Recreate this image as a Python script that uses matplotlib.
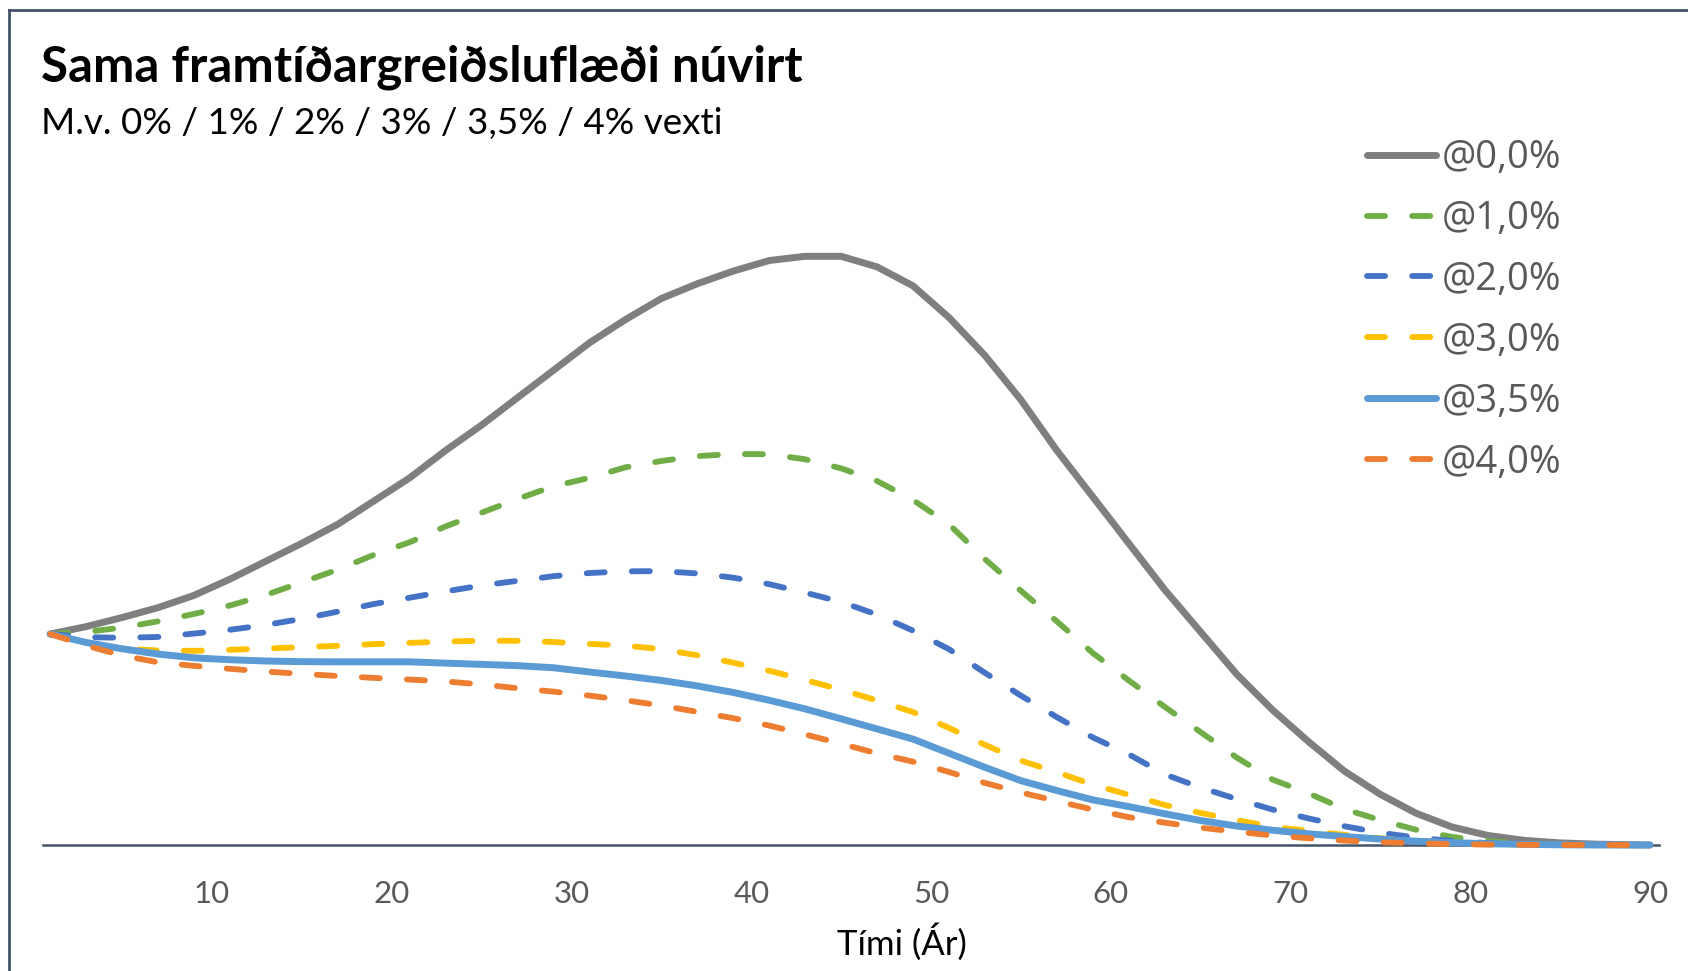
import matplotlib
matplotlib.use("Agg")
import matplotlib.pyplot as plt
from matplotlib.lines import Line2D

# Present value of the same future cash flow, by discount rate
years = [1, 3, 5, 7, 9, 11, 13, 15, 17, 19, 21, 23, 25, 27, 29, 31, 33, 35, 37, 39,
         41, 43, 45, 47, 49, 51, 53, 55, 57, 59, 61, 63, 65, 67, 69, 71, 73, 75, 77, 79,
         81, 83, 85, 87, 89, 90]

pv_0 = [100, 103.5, 107.8, 112.5, 118.3, 126, 134.5, 143, 152, 163, 174, 187, 199, 212,
        225, 238, 249, 259, 266, 272, 277, 279, 279, 274, 265, 250, 232, 211, 187, 165,
        143, 121, 101, 81, 64, 49, 35, 24, 15, 8.5, 4.5, 2.2, 1.0, 0.4, 0.1, 0]
pv_1 = [100, 101, 103, 106, 109.5, 113.5, 118.5, 124.5, 130.5, 137.5, 143.5, 151, 157.5,
        164, 170, 174, 179, 182, 184.3, 185.3, 185.2, 182.8, 178.5, 172.5, 163.5, 152,
        135.5, 120.5, 106, 91, 78, 65.5, 53.5, 41.5, 31, 24.5, 17, 11.8, 7.2, 3.8, 1.8,
        0.8, 0.3, 0.1, 0, 0]
pv_2 = [100, 98.5, 98.2, 98.6, 100.2, 102, 104.3, 107.2, 110.6, 114.2, 117.2, 120.2, 123,
        125.2, 127.4, 128.9, 129.7, 129.8, 128.7, 126.7, 123.6, 119.6, 115.2, 109.2,
        101.6, 92.8, 81.6, 70.8, 60.6, 51, 43, 33.5, 27.2, 21.8, 16.8, 12.6, 8.9, 5.8,
        3.5, 1.9, 0.9, 0.4, 0.15, 0.05, 0, 0]
pv_3 = [100, 95, 93, 92.2, 92, 92.5, 93.1, 93.8, 94.4, 95.2, 95.8, 96.4, 96.8, 96.8, 96.2,
        95.3, 94.5, 92.8, 89.9, 86.4, 82.6, 78.2, 73.6, 68.5, 63, 55.5, 47.5, 40, 34.5,
        28.6, 23.8, 19, 15.2, 11.8, 8.6, 6.7, 4.8, 3.2, 2, 1.1, 0.5, 0.2, 0.1, 0, 0, 0]
pv_35 = [100, 96, 93, 90.5, 88.7, 87.8, 87.2, 86.9, 86.8, 86.8, 86.8, 86.2, 85.6, 85, 84,
         82, 80.1, 78, 75.4, 72.3, 68.6, 64.5, 59.8, 55, 50.2, 43.5, 36.8, 30.5, 25.8,
         21.4, 18.2, 14.8, 11.6, 9, 7, 5.3, 4, 2.8, 1.8, 1.1, 0.6, 0.3, 0.1, 0, 0, 0]
pv_4 = [100, 94.5, 89.8, 86.6, 84.9, 83.5, 82.2, 81.1, 80.1, 79.2, 78.4, 77.5, 76.1, 74.3,
        72.7, 70.8, 68.6, 66.1, 63.1, 60.1, 56.6, 52.4, 48, 43.4, 39.5, 34.6, 29.4, 24.9,
        20.8, 16.8, 13.2, 10.6, 8.2, 6.3, 4.5, 3.2, 2.1, 1.3, 0.8, 0.4, 0.2, 0.1, 0, 0,
        0, 0]

labels = ["@0,0%", "@1,0%", "@2,0%", "@3,0%", "@3,5%", "@4,0%"]
series = [pv_0, pv_1, pv_2, pv_3, pv_35, pv_4]
colors = ["#7f7f7f", "#70ad47", "#4472c4", "#ffc000", "#5b9bd5", "#ed7d31"]
dashed = [False, True, True, True, False, True]
x_ticks = [10, 20, 30, 40, 50, 60, 70, 80, 90]

plt.rcParams["lines.scale_dashes"] = False
W, H = 1688, 971
fig = plt.figure(figsize=(W / 100, H / 100), dpi=100)
fig.patch.set_facecolor("white")

# plot area in pixel terms
ax_left, ax_right, ax_top, ax_bottom = 43, 1659, 130, 845
ax = fig.add_axes([ax_left / W, (H - ax_bottom) / H,
                   (ax_right - ax_left) / W, (ax_bottom - ax_top) / H])

handles = []
for vals, lab, col, dsh in zip(series, labels, colors, dashed):
    if dsh:
        ln, = ax.plot(years, vals, color=col, lw=4.2, label=lab,
                      solid_capstyle="round", dash_capstyle="round",
                      clip_on=False, zorder=3)
        ln.set_dashes((13, 19.5))
    else:
        ln, = ax.plot(years, vals, color=col, lw=5.0, label=lab,
                      solid_capstyle="round", solid_joinstyle="round",
                      clip_on=False, zorder=3)
    handles.append(ln)

ax.set_xlim(0.6, 90.5)
ax.set_ylim(0, (ax_bottom - ax_top) / 2.11)

for side in ["left", "right", "top"]:
    ax.spines[side].set_visible(False)
ax.spines["bottom"].set_color("#44546a")
ax.spines["bottom"].set_linewidth(1.8)
ax.set_yticks([])
ax.set_xticks(x_ticks)
ax.set_xticklabels([str(t) for t in x_ticks], family="Lato", fontsize=22.5,
                   color="#595959")
ax.tick_params(axis="x", length=0, pad=25)

fig.text(902 / W, 1 - 942 / H, "Tími (Ár)", family="Lato", fontsize=25,
         color="black", ha="center", va="center")

fig.text(41 / W, 1 - 81 / H, "Sama framtíðargreiðsluflæði núvirt", family="Lato",
         fontweight="bold", fontsize=35.5, color="black", ha="left", va="baseline")
fig.text(41 / W, 1 - 134 / H, "M.v. 0% / 1% / 2% / 3% / 3,5% / 4% vexti",
         family="Lato", fontsize=26.6, color="black", ha="left", va="baseline")

leg = ax.legend(handles=handles, loc="upper left",
                bbox_to_anchor=(1367 / W, 1 - 139 / H),
                bbox_transform=fig.transFigure, frameon=False,
                prop={"family": "Open Sans", "size": 27.5},
                handlelength=1.8, handletextpad=0.15, labelspacing=0.6,
                borderpad=0, borderaxespad=0)
for txt in leg.get_texts():
    txt.set_color("#595959")

# thin frame along the top and left edge
frame_col = "#44546a"
fig.add_artist(Line2D([9 / W, 9 / W], [0, 1 - 10 / H], transform=fig.transFigure,
                      color=frame_col, lw=2))
fig.add_artist(Line2D([9 / W, 1], [1 - 10 / H, 1 - 10 / H], transform=fig.transFigure,
                      color=frame_col, lw=2))

fig.savefig("out.png", dpi=100)
